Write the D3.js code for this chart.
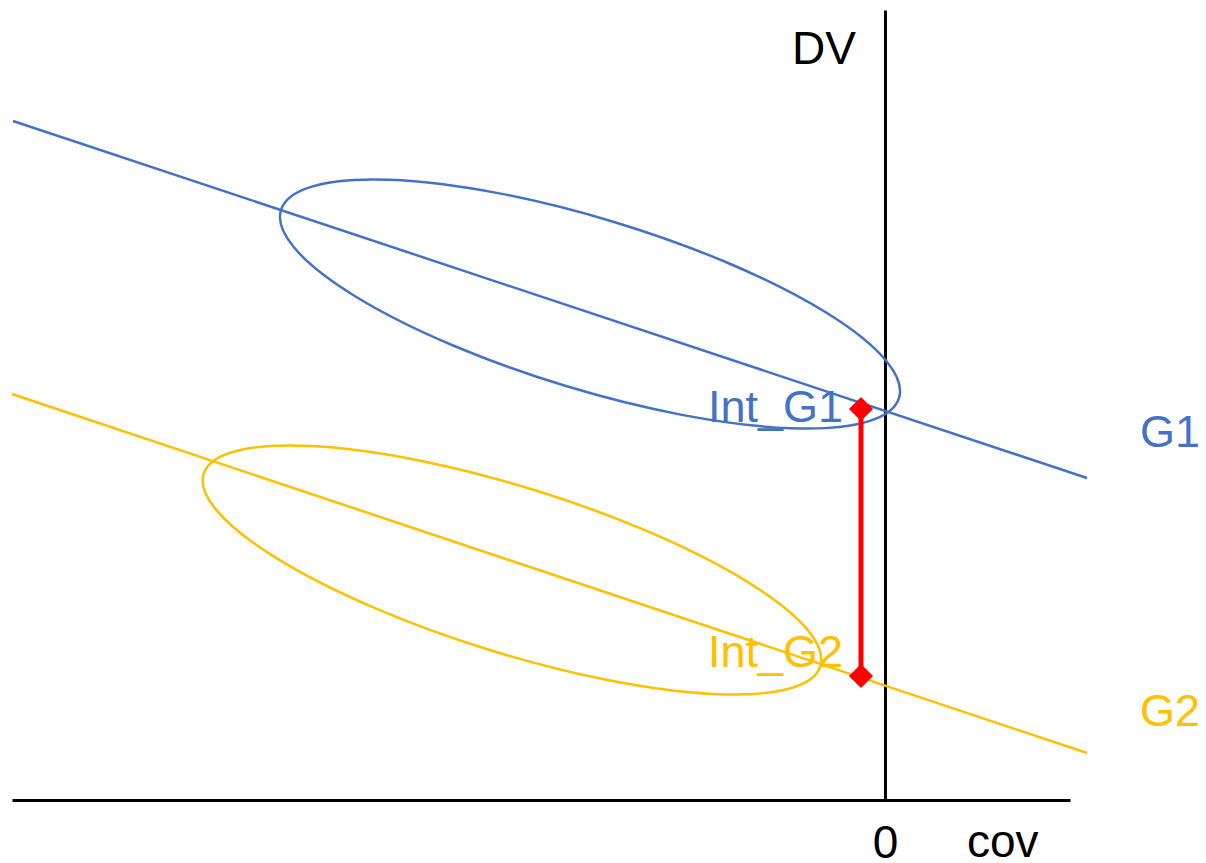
<!DOCTYPE html>
<html>
<head>
<meta charset="utf-8">
<script src="https://cdn.jsdelivr.net/npm/d3@7"></script>
<style>
  html, body { margin: 0; padding: 0; background: #fff; }
  svg { display: block; font-family: "Liberation Sans", Arial, sans-serif; }
</style>
</head>
<body>
<svg id="chart" width="1206" height="863"></svg>
<script>
// Group regression lines (cov vs DV) with their data clouds
const groups = ["G1", "G2"];
const groupColors = ["#4472C4", "#FFC000"];
const lineStartX = [-8.72, -8.73];
const lineStartY = [6.79, 4.06];
const lineEndX = [2.02, 2.02];
const lineEndY = [3.22, 0.47];

// Data clouds as ellipses: centre, semi-axes (data units) and tilt (degrees)
const cloudCX = [-2.95, -3.73];
const cloudCY = [4.96, 2.30];
const cloudMajor = [3.23, 3.23];
const cloudMinor = [0.855, 0.83];
const cloudTilt = [-16.9, -17.3];

// Intercept markers and their labels
const interceptLabels = ["Int_G1", "Int_G2"];
const interceptX = -0.24;
const interceptY = [3.91, 1.24];

// Axes
const xExtent = [-8.73, 1.85];
const yExtent = [0, 7.9];
const xTickValues = [0];
const xAxisTitle = "cov";
const yAxisTitle = "DV";

const svg = d3.select("#chart");
const x = d3.scaleLinear().domain(xExtent).range([12, 1070]);
const y = d3.scaleLinear().domain(yExtent).range([800, 10]);

// x axis with a single "0" tick label
const xAxis = svg.append("g")
  .attr("transform", `translate(0,${y(0)})`)
  .call(d3.axisBottom(x).tickValues(xTickValues).tickSize(0).tickSizeOuter(0).tickPadding(25).tickFormat(d3.format("d")));
xAxis.select(".domain").attr("stroke", "#000").attr("stroke-width", 3);
xAxis.selectAll("text").attr("font-size", 46).attr("fill", "#000")
  .attr("font-family", "Liberation Sans, Arial, sans-serif");

// y axis drawn through cov = 0
const yAxis = svg.append("g")
  .attr("transform", `translate(${x(0)},0)`)
  .call(d3.axisLeft(y).tickValues([]).tickSize(0).tickSizeOuter(0));
yAxis.select(".domain").attr("stroke", "#000").attr("stroke-width", 3);

svg.append("text").attr("x", x(0) - 93).attr("y", y(yExtent[1]) + 54)
  .attr("font-size", 46).attr("fill", "#000").text(yAxisTitle);
svg.append("text").attr("x", x(xExtent[1]) - 103).attr("y", y(0) + 57)
  .attr("font-size", 46).attr("fill", "#000").text(xAxisTitle);

// Ellipses
groups.forEach((g, i) => {
  const cx = x(cloudCX[i]), cy = y(cloudCY[i]);
  svg.append("ellipse")
    .attr("cx", cx).attr("cy", cy)
    .attr("rx", x(cloudMajor[i]) - x(0))
    .attr("ry", y(0) - y(cloudMinor[i]))
    .attr("transform", `rotate(${-cloudTilt[i]},${cx},${cy})`)
    .attr("fill", "none")
    .attr("stroke", groupColors[i])
    .attr("stroke-width", 2.5);
});

// Regression lines and group labels
const line = d3.line().x(d => x(d[0])).y(d => y(d[1]));
groups.forEach((g, i) => {
  svg.append("path")
    .datum([[lineStartX[i], lineStartY[i]], [lineEndX[i], lineEndY[i]]])
    .attr("d", line)
    .attr("fill", "none")
    .attr("stroke", groupColors[i])
    .attr("stroke-width", 2.5);
  svg.append("text")
    .attr("x", x(lineEndX[i]) + 53)
    .attr("y", y(lineEndY[i]) - (i === 0 ? 31 : 27))
    .attr("font-size", 45)
    .attr("fill", groupColors[i])
    .text(g);
});

// Intercept difference: red connector with diamond ends
svg.append("path")
  .datum([[interceptX, interceptY[0]], [interceptX, interceptY[1]]])
  .attr("d", line)
  .attr("stroke", "#FF0000")
  .attr("stroke-width", 5)
  .attr("fill", "none");

const diamond = d3.symbol().type(d3.symbolDiamond2).size(370);
interceptY.forEach((v, i) => {
  svg.append("path")
    .attr("d", diamond())
    .attr("transform", `translate(${x(interceptX)},${y(v)})`)
    .attr("fill", "#FF0000");
  svg.append("text")
    .attr("x", x(interceptX) - 153)
    .attr("y", y(v) + (i === 0 ? 13 : -9))
    .attr("font-size", 45)
    .attr("fill", groupColors[i])
    .text(interceptLabels[i]);
});
</script>
</body>
</html>
